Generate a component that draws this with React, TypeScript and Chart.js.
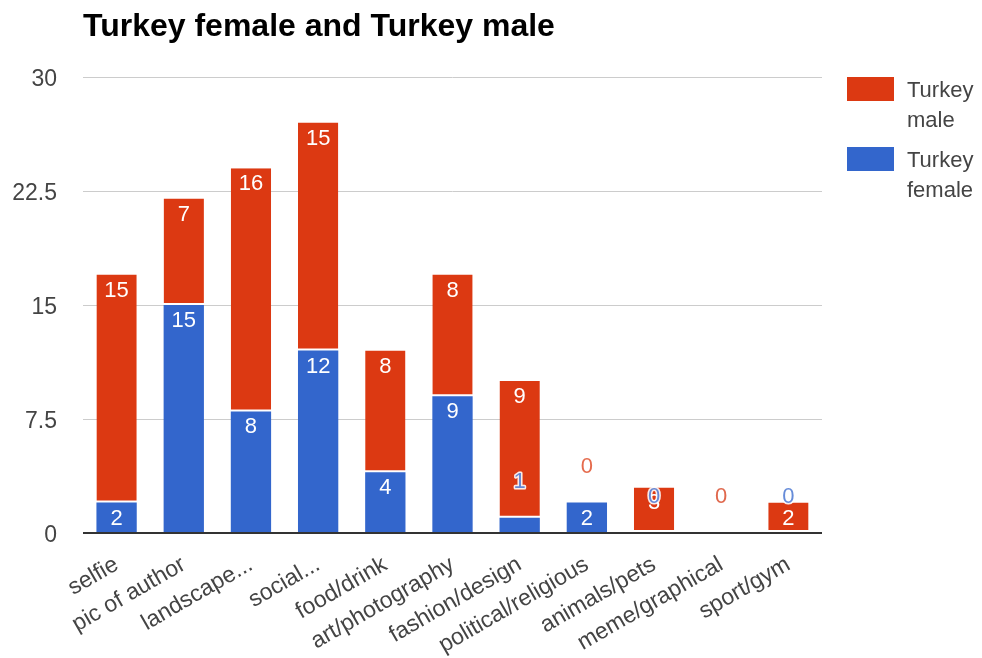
import React, { useEffect, useRef } from "react";
import { Chart, registerables } from "chart.js";

Chart.register(...registerables);

const categories = [
  "selfie",
  "pic of author",
  "landscape...",
  "social...",
  "food/drink",
  "art/photography",
  "fashion/design",
  "political/religious",
  "animals/pets",
  "meme/graphical",
  "sport/gym",
];
const femaleValues = [2, 15, 8, 12, 4, 9, 1, 2, 0, 0, 0];
const maleValues = [15, 7, 16, 15, 8, 8, 9, 0, 3, 0, 2];
const yTicks = [0, 7.5, 15, 22.5, 30];
const titleText = "Turkey female and Turkey male";
const femaleLabel = "Turkey female";
const maleLabel = "Turkey male";

const RED = "#dc3912";
const BLUE = "#3366cc";
const FONT = "Arial, 'Liberation Sans', sans-serif";

const labelPlugin = {
  id: "barLabels",
  afterDatasetsDraw(chart: any) {
    const ctx = chart.ctx;
    const inside: any[] = [];
    const outside: any[] = [];
    chart.data.datasets.forEach((ds: any, di: number) => {
      const meta = chart.getDatasetMeta(di);
      meta.data.forEach((el: any, i: number) => {
        const v = ds.data[i];
        const h = el.base - el.y;
        if (v > 0 && h >= 20) {
          inside.push({ x: el.x, y: el.y + 16, text: String(v) });
        } else {
          outside.push({ x: el.x, y: el.y - 36, text: String(v), color: ds.backgroundColor });
        }
      });
    });
    ctx.save();
    ctx.font = `22px ${FONT}`;
    ctx.textAlign = "center";
    ctx.textBaseline = "middle";
    inside.forEach((l) => {
      ctx.fillStyle = "#ffffff";
      ctx.fillText(l.text, l.x, l.y);
    });
    outside.forEach((l) => {
      ctx.lineWidth = 3;
      ctx.strokeStyle = "rgba(255,255,255,0.9)";
      ctx.lineJoin = "round";
      ctx.strokeText(l.text, l.x, l.y);
      ctx.globalAlpha = 0.75;
      ctx.fillStyle = l.color;
      ctx.fillText(l.text, l.x, l.y);
      ctx.globalAlpha = 1;
    });
    ctx.restore();
  },
};

export default function App() {
  const ref = useRef<HTMLCanvasElement | null>(null);
  useEffect(() => {
    if (!ref.current) return;
    const chart = new Chart(ref.current, {
      type: "bar",
      data: {
        labels: categories,
        datasets: [
          {
            label: femaleLabel,
            data: femaleValues,
            backgroundColor: BLUE,
            borderWidth: 0,
            barPercentage: 0.6,
            categoryPercentage: 1,
          },
          {
            label: maleLabel,
            data: maleValues,
            backgroundColor: RED,
            borderColor: "#ffffff",
            borderWidth: { top: 0, left: 0, right: 0, bottom: 2 },
            borderSkipped: false,
            barPercentage: 0.6,
            categoryPercentage: 1,
          },
        ],
      },
      options: {
        responsive: false,
        animation: false,
        layout: { padding: { left: 0, top: 77, right: 160, bottom: 0 } },
        plugins: {
          legend: { display: false },
          title: { display: false },
          tooltip: { enabled: false },
        },
        scales: {
          x: {
            stacked: true,
            grid: { display: false },
            border: { display: false },
            ticks: {
              color: "#444444",
              font: { family: FONT, size: 23 },
              minRotation: 30,
              maxRotation: 30,
              padding: 10,
              autoSkip: false,
            },
            afterFit(scale: any) {
              scale.height = 125;
            },
          },
          y: {
            stacked: true,
            min: 0,
            max: 30,
            afterBuildTicks(scale: any) {
              scale.ticks = yTicks.map((v) => ({ value: v }));
            },
            grid: {
              drawTicks: false,
              color: (c: any) => (c.tick && c.tick.value === 0 ? "#333333" : "#cccccc"),
              lineWidth: (c: any) => (c.tick && c.tick.value === 0 ? 2 : 1),
            },
            border: { display: false },
            ticks: {
              color: "#444444",
              font: { family: FONT, size: 23 },
              padding: 26,
              labelOffset: 3,
              callback: (v: any) => String(v),
            },
            afterFit(scale: any) {
              scale.width = 83;
            },
          },
        },
      },
      plugins: [labelPlugin],
    } as any);
    return () => chart.destroy();
  }, []);

  const legendText: React.CSSProperties = {
    position: "absolute",
    left: 907,
    font: `22px ${FONT}`,
    lineHeight: "30px",
    color: "#444444",
    width: 75,
  };

  return (
    <div style={{ position: "absolute", left: 0, top: 0, width: 982, height: 658, background: "#fff" }}>
      <canvas ref={ref} width={982} height={658} style={{ position: "absolute", left: 0, top: 0 }} />
      <div
        style={{
          position: "absolute",
          left: 83,
          top: 7,
          font: `bold 32px ${FONT}`,
          color: "#000",
          whiteSpace: "nowrap",
        }}
      >
        {titleText}
      </div>
      <div style={{ position: "absolute", left: 847, top: 77, width: 47, height: 24, background: RED }} />
      <div style={{ ...legendText, top: 75 }}>
        Turkey
        <br />
        male
      </div>
      <div style={{ position: "absolute", left: 847, top: 147, width: 47, height: 24, background: BLUE }} />
      <div style={{ ...legendText, top: 145 }}>
        Turkey
        <br />
        female
      </div>
    </div>
  );
}
